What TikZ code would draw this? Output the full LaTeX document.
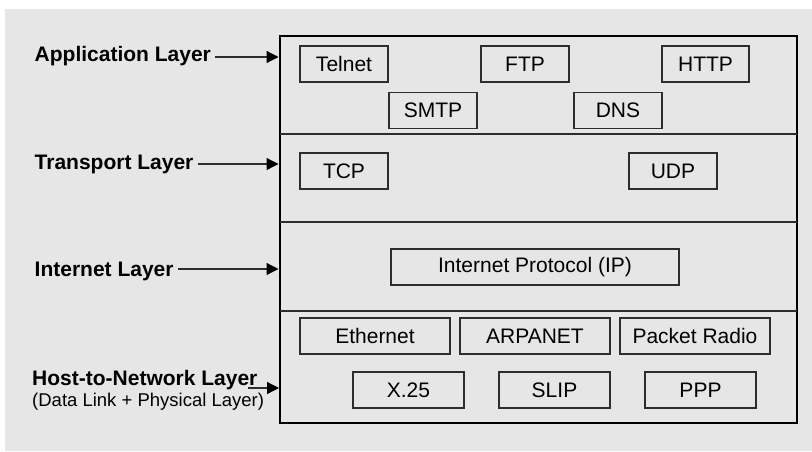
\documentclass[tikz,border=0pt]{standalone}
\usepackage{fontspec}
\setmainfont{Liberation Sans}
\usetikzlibrary{arrows.meta}
\definecolor{panel}{RGB}{230,230,230}
\definecolor{ink}{RGB}{45,45,45}

\begin{document}
\begin{tikzpicture}[x=1pt,y=-1pt,
  proto/.style={draw=ink,line width=1.4pt,minimum height=36pt,inner sep=0pt,
    font=\fontsize{21}{24}\selectfont,text=black},
  layerlabel/.style={anchor=base west,inner sep=0pt,text=black,
    font=\bfseries\fontsize{21}{24}\selectfont},
  pointer/.style={draw=ink,line width=1.3pt,
    -{Triangle[length=12pt,width=12pt,color=black]}}]

% canvas and backdrop
\useasboundingbox (0,0) rectangle (812,451);
\fill[white] (0,0) rectangle (812,451);
\fill[panel] (5,9) rectangle (812,451);

% protocol stack frame with layer separators
\draw[black,line width=2.6pt] (280,36) rectangle (797,423);
\draw[ink,line width=1.4pt] (280,134) -- (797,134);
\draw[ink,line width=1.4pt] (280,222) -- (797,222);
\draw[ink,line width=1.4pt] (280,311) -- (797,311);

% application layer protocols
\node[proto,minimum width=88pt] (telnet) at (344,64) {Telnet};
\node[proto,minimum width=88pt] (ftp)    at (525,64) {FTP};
\node[proto,minimum width=87pt] (http)   at (705.5,64) {HTTP};
\node[proto,minimum width=88pt] (smtp)   at (433,110.5) {SMTP};
\node[proto,minimum width=88pt] (dns)    at (618,110.5) {DNS};

% transport layer protocols
\node[proto,minimum width=88pt] (tcp) at (344,171) {TCP};
\node[proto,minimum width=88pt] (udp) at (673,171) {UDP};

% internet layer
\node[proto,minimum width=288pt] (ip) at (535,267) {Internet Protocol (IP)};

% host-to-network layer
\node[proto,minimum width=150pt] (eth)    at (375,336) {Ethernet};
\node[proto,minimum width=150pt] (arpa)   at (535,336) {ARPANET};
\node[proto,minimum width=150pt] (pradio) at (695,336) {Packet Radio};
\node[proto,minimum width=111pt] (x25)    at (408.5,390) {X.25};
\node[proto,minimum width=111pt] (slip)   at (554.5,390) {SLIP};
\node[proto,minimum width=111pt] (ppp)    at (700.5,390) {PPP};

% layer names
\node[layerlabel] (app)  at (34.5,61)  {Application Layer};
\node[layerlabel] (trn)  at (34.5,169) {Transport Layer};
\node[layerlabel] (inet) at (34.5,276) {Internet Layer};
\node[layerlabel] (host) at (32,385)   {Host-to-Network Layer};
\node[anchor=base west,inner sep=0pt,text=black,
      font=\fontsize{18.5}{22}\selectfont] (hostsub) at (32,406)
      {(Data Link + Physical Layer)};

% arrow targets on the frame
\coordinate (appin)  at (278.5,57);
\coordinate (trnin)  at (278.5,164);
\coordinate (inetin) at (278.5,269);
\coordinate (hostfrom) at (248,388);
\coordinate (hostin) at (279,388);

\draw[pointer] ([xshift=4pt]app.east |- appin) -- (appin);
\draw[pointer] ([xshift=4pt]trn.east |- trnin) -- (trnin);
\draw[pointer] ([xshift=4pt]inet.east |- inetin) -- (inetin);
\draw[pointer] (hostfrom) -- (hostin);

\end{tikzpicture}
\end{document}
